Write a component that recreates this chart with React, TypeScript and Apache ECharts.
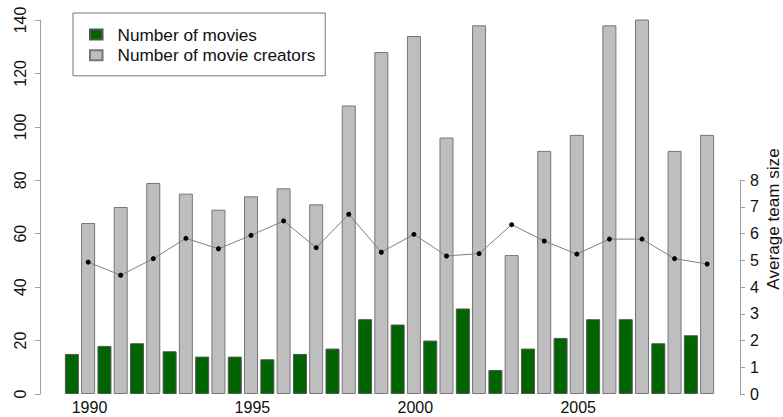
import React, { useEffect, useRef } from "react";
import * as echarts from "echarts";

const years = ["1990","1991","1992","1993","1994","1995","1996","1997","1998","1999","2000","2001","2002","2003","2004","2005","2006","2007","2008","2009"];
const movies = [15, 18, 19, 16, 14, 14, 13, 15, 17, 28, 26, 20, 32, 9, 17, 21, 28, 28, 19, 22];
const creators = [64, 70, 79, 75, 69, 74, 77, 71, 108, 128, 134, 96, 138, 52, 91, 97, 138, 141, 91, 97];
const teamSize = [4.93, 4.44, 5.06, 5.82, 5.43, 5.93, 6.47, 5.47, 6.72, 5.3, 5.97, 5.16, 5.25, 6.33, 5.72, 5.23, 5.79, 5.79, 5.06, 4.86];
const leftTicks = [0, 140, 20];
const rightTicks = [0, 8, 1];
const rightTitle = "Average team size";

const FONT = "Liberation Sans, Arial, Helvetica, sans-serif";

export default function App() {
  const ref = useRef<HTMLDivElement>(null);
  useEffect(() => {
    if (!ref.current) return;
    const chart = echarts.init(ref.current, null, { renderer: "svg" });
    const gridLeft = 63.7;
    const gridRight = 783 - 715.3;
    const option: any = {
      animation: false,
      backgroundColor: "#ffffff",
      textStyle: { fontFamily: FONT },
      grid: [
        { left: gridLeft, right: gridRight, top: 20, bottom: 23 },
        { left: gridLeft, right: gridRight, top: 180, bottom: 23 },
      ],
      legend: {
        orient: "vertical",
        left: 73,
        top: 13,
        padding: [13, 10, 12, 16],
        borderColor: "#777",
        borderWidth: 1,
        itemWidth: 12.5,
        itemHeight: 10,
        itemGap: 3.8,
        icon: "rect",
        textStyle: { fontSize: 17.2, color: "#111", fontFamily: FONT, padding: [0, 0, 0, 10], lineHeight: 17 },
        data: ["Number of movies", "Number of movie creators"],
      },
      graphic: [
        {
          type: "text",
          x: 773,
          y: 219,
          rotation: Math.PI / 2,
          style: {
            text: rightTitle,
            fontSize: 17.1,
            fontFamily: FONT,
            fill: "#111",
            align: "center",
            verticalAlign: "middle",
          },
        },
      ],
      xAxis: [
        {
          type: "category",
          gridIndex: 0,
          data: years,
          boundaryGap: true,
          axisLine: { show: false },
          axisTick: { show: false },
          axisLabel: {
            interval: 4,
            fontSize: 16,
            color: "#111",
            margin: 5,
            padding: [0, 0, 0, 19],
            fontFamily: FONT,
          },
        },
        {
          type: "value",
          gridIndex: 1,
          min: -0.5,
          max: years.length - 0.5,
          show: false,
        },
      ],
      yAxis: [
        {
          type: "value",
          gridIndex: 0,
          min: leftTicks[0],
          max: leftTicks[1],
          interval: leftTicks[2],
          offset: gridLeft - 40,
          splitLine: { show: false },
          axisLine: { show: true, onZero: false, lineStyle: { color: "#a0a0a0", width: 1 } },
          axisTick: { show: true, length: 5, lineStyle: { color: "#a0a0a0" } },
          axisLabel: { rotate: 90, fontSize: 16, color: "#111", margin: 12, fontFamily: FONT },
        },
        {
          type: "value",
          gridIndex: 1,
          position: "right",
          min: rightTicks[0],
          max: rightTicks[1],
          interval: rightTicks[2],
          offset: 740 - 715.3,
          splitLine: { show: false },
          axisLine: { show: true, onZero: false, lineStyle: { color: "#a0a0a0", width: 1 } },
          axisTick: { show: true, length: 5, lineStyle: { color: "#a0a0a0" } },
          axisLabel: { fontSize: 16, color: "#111", margin: 10, fontFamily: FONT },
        },
      ],
      series: [
        {
          name: "Number of movies",
          type: "bar",
          xAxisIndex: 0,
          yAxisIndex: 0,
          data: movies,
          barWidth: 14,
          barGap: "16%",
          itemStyle: { color: "#006400", borderColor: "#555", borderWidth: 1 },
        },
        {
          name: "Number of movie creators",
          type: "bar",
          xAxisIndex: 0,
          yAxisIndex: 0,
          data: creators,
          barWidth: 14,
          barGap: "16%",
          itemStyle: { color: "#bebebe", borderColor: "#777", borderWidth: 1 },
        },
        {
          name: rightTitle,
          type: "line",
          xAxisIndex: 1,
          yAxisIndex: 1,
          data: teamSize.map((v, i) => [i + 0.25, v]),
          symbol: "circle",
          symbolSize: 5,
          lineStyle: { color: "#808080", width: 1 },
          itemStyle: { color: "#000" },
          z: 5,
        },
      ],
    };
    chart.setOption(option);
    return () => chart.dispose();
  }, []);
  return (
    <div
      ref={ref}
      style={{ position: "fixed", left: 0, top: 0, width: 783, height: 417, background: "#fff" }}
    />
  );
}
